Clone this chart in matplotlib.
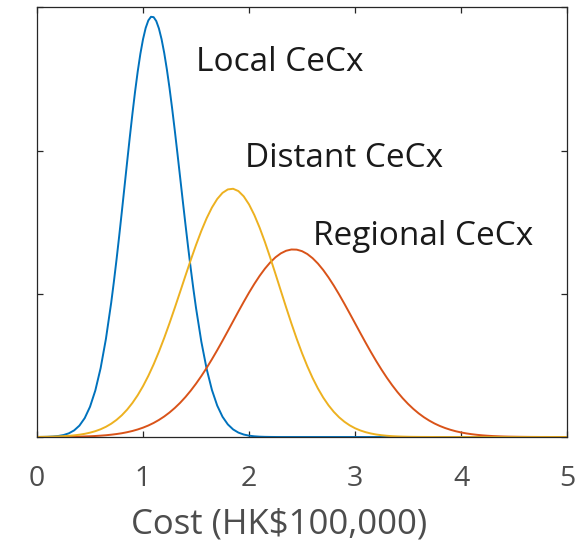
import matplotlib
matplotlib.use("Agg")
import matplotlib.pyplot as plt

# Cost grid, in units of HK$100,000
cost = [round(0.05 * i, 3) for i in range(101)]
# the local curve is narrow, so it gets a finer grid around its peak
local_cost = ([round(0.05 * i, 3) for i in range(15)]
              + [round(0.725 + 0.025 * i, 3) for i in range(31)]
              + [round(1.5 + 0.05 * i, 3) for i in range(71)])

# Density curves for the three CeCx types
local_cecx = [
    # 0.00 - 0.70
    0.0002, 0.0004, 0.0008, 0.0018, 0.0036, 0.0069, 0.0129, 0.0231, 0.0398, 0.0661,
    0.1057, 0.1625, 0.2405, 0.3426, 0.4695,
    # 0.725 - 1.475
    0.5419, 0.6193, 0.7011, 0.7861, 0.8729, 0.9600, 1.0458, 1.1283, 1.2057, 1.2761,
    1.3377, 1.3886, 1.4279, 1.4542, 1.4669, 1.4657, 1.4520, 1.4260, 1.3887, 1.3407,
    1.2833, 1.2180, 1.1460, 1.0691, 0.9888, 0.9069, 0.8246, 0.7433, 0.6643, 0.5887,
    0.5172,
    # 1.50 - 5.00
    0.4505, 0.3331, 0.2381, 0.1644, 0.1097, 0.0707, 0.0441, 0.0265, 0.0154, 0.0087,
    0.0047, 0.0025, 0.0012, 0.0006, 0.0003, 0.0001, 0.0, 0.0, 0.0, 0.0,
    0.0, 0.0, 0.0, 0.0, 0.0, 0.0, 0.0, 0.0, 0.0, 0.0,
    0.0, 0.0, 0.0, 0.0, 0.0, 0.0, 0.0, 0.0, 0.0, 0.0,
    0.0, 0.0, 0.0, 0.0, 0.0, 0.0, 0.0, 0.0, 0.0, 0.0,
    0.0, 0.0, 0.0, 0.0, 0.0, 0.0, 0.0, 0.0, 0.0, 0.0,
    0.0, 0.0, 0.0, 0.0, 0.0, 0.0, 0.0, 0.0, 0.0, 0.0,
    0.0,
]

regional_cecx = [
    0.0001, 0.0002, 0.0002, 0.0003, 0.0004, 0.0006, 0.0008, 0.0011, 0.0015, 0.0020,
    0.0027, 0.0036, 0.0048, 0.0062, 0.0081, 0.0104, 0.0132, 0.0168, 0.0211, 0.0264,
    0.0327, 0.0402, 0.0491, 0.0596, 0.0717, 0.0856, 0.1015, 0.1194, 0.1395, 0.1618,
    0.1862, 0.2127, 0.2411, 0.2714, 0.3031, 0.3361, 0.3699, 0.4041, 0.4383, 0.4717,
    0.5040, 0.5344, 0.5625, 0.5877, 0.6095, 0.6275, 0.6411, 0.6502, 0.6546, 0.6541,
    0.6488, 0.6388, 0.6242, 0.6055, 0.5830, 0.5571, 0.5285, 0.4976, 0.4650, 0.4314,
    0.3973, 0.3631, 0.3294, 0.2966, 0.2651, 0.2353, 0.2072, 0.1811, 0.1571, 0.1353,
    0.1157, 0.0982, 0.0827, 0.0691, 0.0574, 0.0472, 0.0386, 0.0314, 0.0253, 0.0202,
    0.0160, 0.0126, 0.0099, 0.0077, 0.0059, 0.0045, 0.0034, 0.0026, 0.0019, 0.0014,
    0.0011, 0.0008, 0.0006, 0.0004, 0.0003, 0.0002, 0.0002, 0.0001, 0.0001, 0.0001,
    0.0,
]

distant_cecx = [
    0.0004, 0.0006, 0.0009, 0.0014, 0.0020, 0.0029, 0.0041, 0.0058, 0.0081, 0.0111,
    0.0152, 0.0204, 0.0271, 0.0357, 0.0465, 0.0598, 0.0760, 0.0956, 0.1189, 0.1461,
    0.1776, 0.2134, 0.2535, 0.2979, 0.3460, 0.3974, 0.4514, 0.5068, 0.5628, 0.6177,
    0.6704, 0.7195, 0.7635, 0.8010, 0.8309, 0.8523, 0.8643, 0.8666, 0.8585, 0.8401,
    0.8120, 0.7751, 0.7309, 0.6807, 0.6262, 0.5690, 0.5107, 0.4527, 0.3964, 0.3428,
    0.2929, 0.2471, 0.2059, 0.1695, 0.1378, 0.1107, 0.0878, 0.0688, 0.0533, 0.0407,
    0.0307, 0.0229, 0.0169, 0.0123, 0.0088, 0.0063, 0.0044, 0.0030, 0.0021, 0.0014,
    0.0009, 0.0006, 0.0004, 0.0003, 0.0002, 0.0001, 0.0, 0.0, 0.0, 0.0,
    0.0, 0.0, 0.0, 0.0, 0.0, 0.0, 0.0, 0.0, 0.0, 0.0,
    0.0, 0.0, 0.0, 0.0, 0.0, 0.0, 0.0, 0.0, 0.0, 0.0,
    0.0,
]

names = ["Local CeCx", "Regional CeCx", "Distant CeCx"]
label_pos = [(1.50, 1.276), (2.60, 0.669), (1.96, 0.941)]
x_ticks = [0, 1, 2, 3, 4, 5]

plt.rcParams["font.family"] = ["Open Sans", "DejaVu Sans"]

fig = plt.figure(figsize=(5.84, 5.46), dpi=100)
ax = fig.add_axes([0.0634, 0.1996, 0.9075, 0.787])

colors = ["#0072BD", "#D95319", "#EDB120"]
curves = [(local_cost, local_cecx), (cost, regional_cecx), (cost, distant_cecx)]
for (xs, ys), c in zip(curves, colors):
    ax.plot(xs, ys, color=c, linewidth=1.4, solid_joinstyle="round")

for name, (tx, ty) in zip(names, label_pos):
    ax.text(tx, ty, name, fontsize=24, color="#1a1a1a", va="baseline", ha="left")

ax.set_xlim(0, 5)
ax.set_ylim(0, 1.5)
ax.set_xticks(x_ticks)
ax.set_xticklabels([str(t) for t in x_ticks])
ax.set_yticks([0, 0.5, 1.0, 1.5])
ax.set_yticklabels([])
ax.tick_params(direction="in", length=4.5, width=0.9, color="#262626",
               top=True, right=True, labelsize=20.5, labelcolor="#4d4d4d", pad=20)
for s in ax.spines.values():
    s.set_color("#262626")
    s.set_linewidth(0.9)

ax.set_xlabel("Cost (HK$100,000)", fontsize=25, color="#4d4d4d")
ax.xaxis.set_label_coords(0.456, -0.2234)
ax.xaxis.label.set_va("baseline")

fig.savefig("out.png", dpi=100)
